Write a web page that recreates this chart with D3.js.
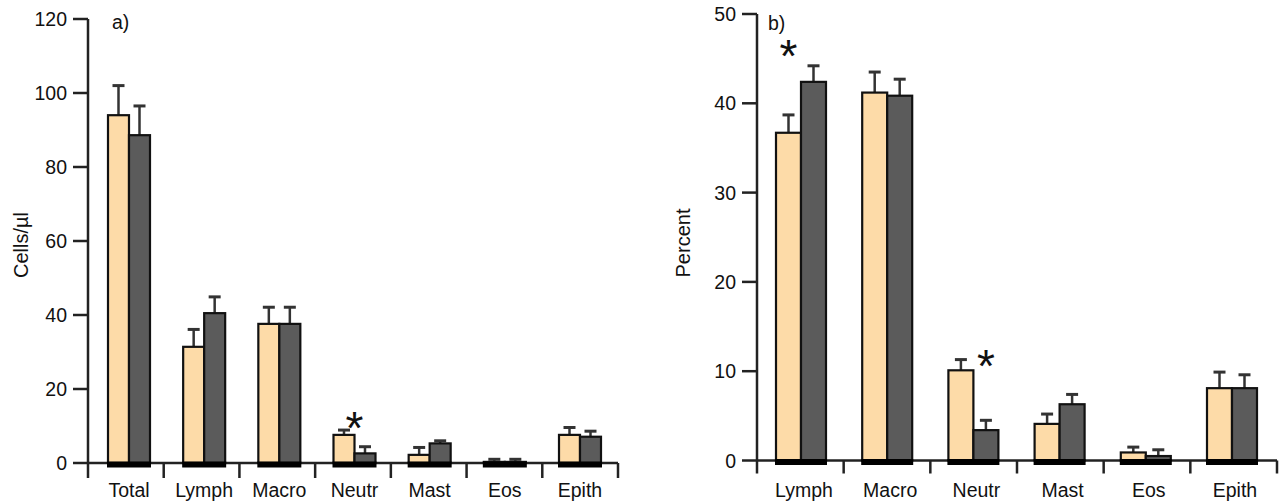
<!DOCTYPE html>
<html><head><meta charset="utf-8">
<script src="https://cdn.jsdelivr.net/npm/d3@7"></script>
<style>body{margin:0;background:#fff}svg{display:block}text{font-family:"Liberation Sans",Arial,sans-serif;fill:#111}</style>
</head><body>
<svg id="c" width="1283" height="502"></svg>
<script>
// ---- data ----
const catsA = ["Total","Lymph","Macro","Neutr","Mast","Eos","Epith"];
const ctrlA = [94, 31.4, 37.6, 7.6, 2.2, 0.3, 7.6];
const ctrlAErr = [8.0, 4.7, 4.5, 1.3, 2.0, 0.7, 2.0];
const trtA = [88.6, 40.5, 37.6, 2.6, 5.3, 0.3, 7.1];
const trtAErr = [7.9, 4.4, 4.5, 1.8, 0.7, 0.7, 1.5];
const ticksA = [0,20,40,60,80,100,120];
const starsA = [{cat:"Neutr", v:11.8, over:"mid"}];

const catsB = ["Lymph","Macro","Neutr","Mast","Eos","Epith"];
const ctrlB = [36.7, 41.2, 10.1, 4.1, 0.9, 8.1];
const ctrlBErr = [2.0, 2.3, 1.2, 1.1, 0.6, 1.8];
const trtB = [42.4, 40.85, 3.4, 6.3, 0.5, 8.1];
const trtBErr = [1.8, 1.85, 1.1, 1.1, 0.7, 1.5];
const ticksB = [0,10,20,30,40,50];
const starsB = [{cat:"Lymph", v:46.3, over:"ctrl"},{cat:"Neutr", v:11.6, over:"trt"}];

const ORANGE = "#fddba8", DARK = "#5b5b5b", AX = "#222";
const svg = d3.select("#c");

function panel(o){
  const g = svg.append("g");
  const y = d3.scaleLinear().domain([0, o.ymax]).range([o.y0, o.ytop]);
  const xb = d3.scaleBand().domain(o.cats).range([o.x0, o.x1]);
  const xc = d3.scalePoint().domain(o.cats).range([o.c0, o.c1]);
  const bw = o.bw;
  // y axis
  g.append("line").attr("x1",o.x0).attr("x2",o.x0).attr("y1",o.ytop).attr("y2",o.y0+o.tickDown)
    .attr("stroke",AX).attr("stroke-width",2.5);
  g.selectAll(".yt").data(o.ticks).enter().append("line")
    .attr("x1",o.x0-15).attr("x2",o.x0).attr("y1",d=>y(d)).attr("y2",d=>y(d))
    .attr("stroke",AX).attr("stroke-width",2.5);
  g.selectAll(".yl").data(o.ticks).enter().append("text")
    .attr("x",o.x0-21).attr("y",d=>y(d)).attr("dy","0.36em").attr("text-anchor","end")
    .attr("font-size",19.5).text(d=>d);
  // x axis
  g.append("line").attr("x1",o.x0).attr("x2",o.x1).attr("y1",o.y0).attr("y2",o.y0)
    .attr("stroke",AX).attr("stroke-width",2.5);
  const bounds = o.cats.map(c=>xb(c)+xb.bandwidth());
  g.selectAll(".xt").data(bounds).enter().append("line")
    .attr("x1",d=>d).attr("x2",d=>d).attr("y1",o.y0).attr("y2",o.y0+o.tickDown)
    .attr("stroke",AX).attr("stroke-width",2.5);
  g.selectAll(".xl").data(o.cats).enter().append("text")
    .attr("x",d=>xc(d)+o.labOff).attr("y",497).attr("text-anchor","middle")
    .attr("font-size",19.5).text(d=>d);
  // bars
  const series = [{v:o.s1,e:o.e1,fill:ORANGE,off:-bw},{v:o.s2,e:o.e2,fill:DARK,off:0}];
  series.forEach(s=>{
    const data = o.cats.map((c,i)=>({c,v:s.v[i],e:s.e[i]}));
    g.selectAll(null).data(data).enter().append("line")
      .attr("x1",d=>xc(d.c)+s.off+bw/2).attr("x2",d=>xc(d.c)+s.off+bw/2)
      .attr("y1",d=>y(d.v)).attr("y2",d=>y(d.v+d.e)).attr("stroke","#333").attr("stroke-width",2.5);
    g.selectAll(null).data(data).enter().append("line")
      .attr("x1",d=>xc(d.c)+s.off+bw/2-6).attr("x2",d=>xc(d.c)+s.off+bw/2+6)
      .attr("y1",d=>y(d.v+d.e)).attr("y2",d=>y(d.v+d.e)).attr("stroke","#333").attr("stroke-width",3);
    g.selectAll(null).data(data).enter().append("rect")
      .attr("x",d=>xc(d.c)+s.off).attr("width",bw)
      .attr("y",d=>y(d.v)).attr("height",d=>o.y0-y(d.v))
      .attr("fill",s.fill).attr("stroke","#111").attr("stroke-width",2.2);
  });
  // heavy base under each pair
  g.selectAll(".base").data(o.cats).enter().append("rect")
    .attr("x",d=>xc(d)-bw-1).attr("width",2*bw+2).attr("y",o.y0-1.5).attr("height",6)
    .attr("fill","#000");
  // stars
  const starX = d => xc(d.cat) + (d.over==="ctrl" ? -bw/2 : d.over==="trt" ? bw/2 : 0);
  g.selectAll(".star").data(o.stars).enter().append("text")
    .attr("x",starX).attr("y",d=>y(d.v)+25).attr("text-anchor","middle")
    .attr("font-size",46).text("*");
  // panel letter
  g.append("text").attr("x",o.x0+o.letterDx).attr("y",o.letterY).attr("font-size",19.5).text(o.letter);
  // y title
  g.append("text").attr("transform",`translate(${o.titleX},${o.titleY}) rotate(-90)`)
    .attr("text-anchor","middle").attr("font-size",20).text(o.title);
}

panel({cats:catsA, s1:ctrlA, e1:ctrlAErr, s2:trtA, e2:trtAErr, ticks:ticksA, ymax:120,
  x0:88, x1:618, y0:463, ytop:19, c0:129, c1:580, bw:21, tickDown:15, labOff:0,
  stars:starsA, letter:"a)", letterDx:24, letterY:29,
  title:"Cells/µl", titleX:28, titleY:245});
panel({cats:catsB, s1:ctrlB, e1:ctrlBErr, s2:trtB, e2:trtBErr, ticks:ticksB, ymax:50,
  x0:757, x1:1277, y0:460.5, ytop:14, c0:801, c1:1232, bw:25, tickDown:13, labOff:3,
  stars:starsB, letter:"b)", letterDx:11, letterY:30,
  title:"Percent", titleX:690, titleY:243});
</script>
</body></html>
